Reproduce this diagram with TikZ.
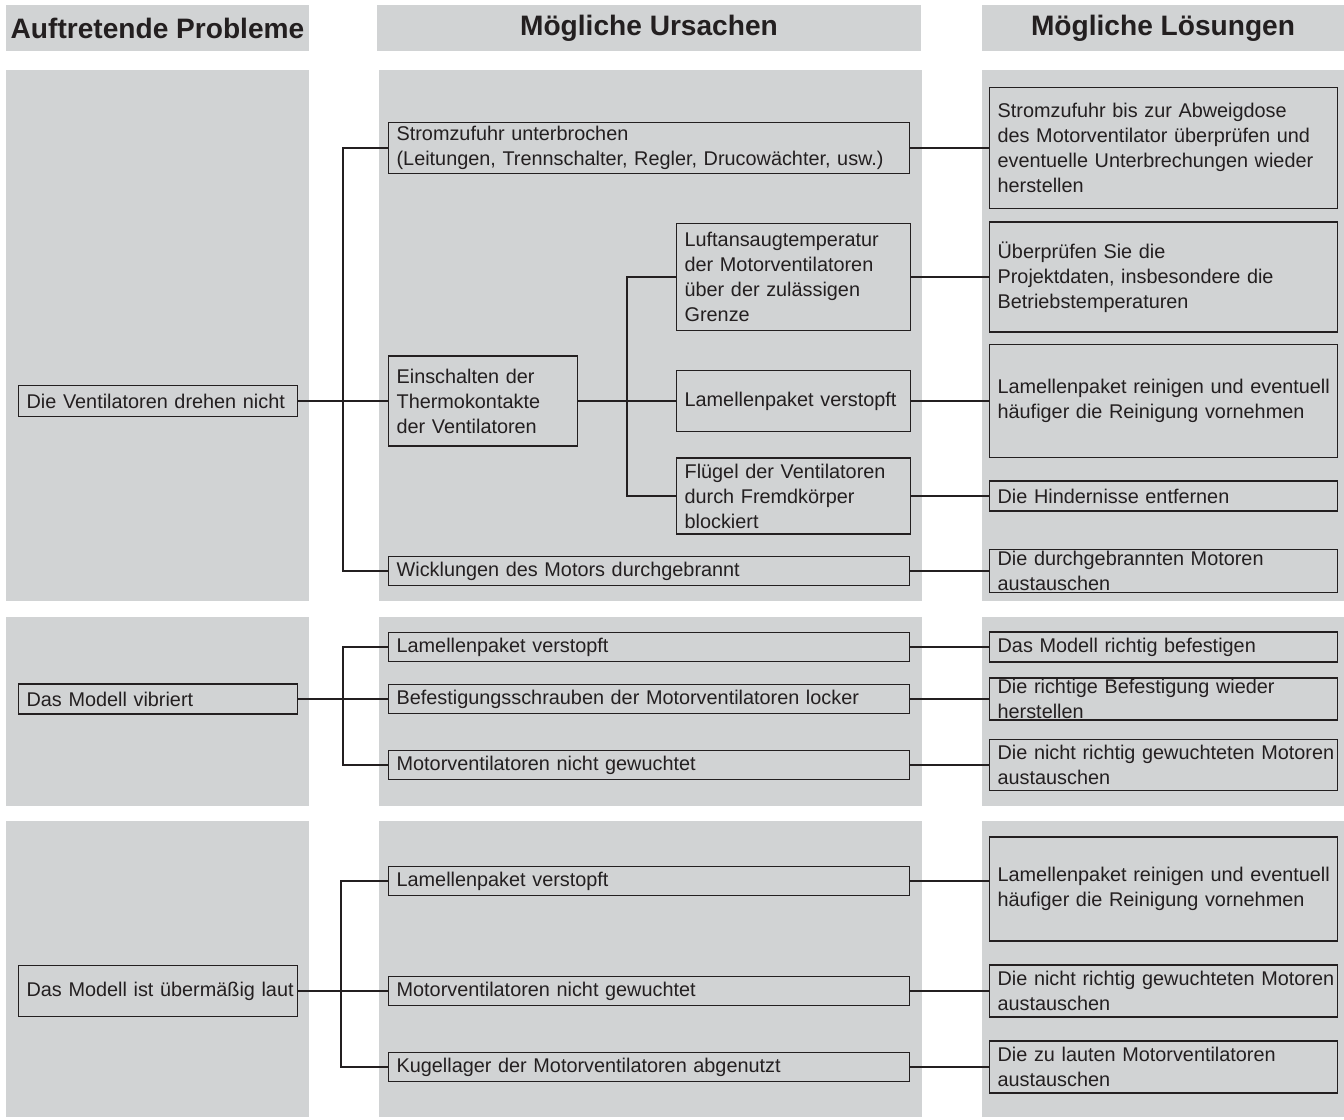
\documentclass[tikz,border=0pt]{standalone}
\usepackage{fontspec}
\setmainfont{Liberation Sans}
\usepackage{xcolor}
\usepackage{tikz}
\definecolor{panelgray}{RGB}{209,211,212}
\definecolor{inkgray}{RGB}{35,31,32}
\hyphenpenalty=10000
\exhyphenpenalty=10000

\begin{document}
\begin{tikzpicture}[
      x=0.02cm, y=-0.02cm,
      every node/.style={font=\fontsize{11.3}{14.2}\selectfont, text=inkgray},
      panel/.style={fill=panelgray},
      head/.style={fill=panelgray, inner sep=0pt, minimum height=0.92cm,
                   font=\fontsize{16}{19}\selectfont\bfseries},
      box/.style={draw=inkgray, line width=0.7pt, fill=panelgray, anchor=west,
                  align=left, inner xsep=0.16cm, inner ysep=0.5pt, minimum height=0.58cm},
      prob/.style={box, text width=5.26cm},
      cause/.style={box, text width=10.10cm},
      causes/.style={box, text width=3.46cm},
      causem/.style={box, text width=4.36cm},
      fix/.style={box, text width=6.64cm},
      wire/.style={draw=inkgray, line width=0.7pt}
    ]
      \useasboundingbox (0,0) rectangle (1344,1119);
      \fill[panel] (6,70) rectangle (309,601);
      \fill[panel] (379,70) rectangle (922,601);
      \fill[panel] (982,70) rectangle (1344,601);
      \fill[panel] (6,617) rectangle (309,806);
      \fill[panel] (379,617) rectangle (922,806);
      \fill[panel] (982,617) rectangle (1344,806);
      \fill[panel] (6,821) rectangle (309,1117);
      \fill[panel] (379,821) rectangle (922,1117);
      \fill[panel] (982,821) rectangle (1344,1117);

      \node (h1) [head, minimum width=6.06cm]  at (157.5,28) {Auftretende Probleme};
      \node (h2) [head, minimum width=10.88cm] at (649,28)   {Mögliche Ursachen};
      \node (h3) [head, minimum width=7.24cm]  at (1163,28)  {Mögliche Lösungen};

      \node (p1)  [prob, minimum height=0.62cm] at (18,401) {Die Ventilatoren drehen nicht};
      \node (c1)  [cause, minimum height=1.02cm] at (388,148) {Stromzufuhr unterbrochen\\(Leitungen, Trennschalter, Regler, Drucowächter, usw.)};
      \node (c2)  [causes, minimum height=1.8cm] at (388,401) {Einschalten der\\Thermokontakte\\der Ventilatoren};
      \node (c3)  [causem, minimum height=2.14cm] at (676,277) {Luftansaugtemperatur\\der Motorventilatoren\\über der zulässigen\\Grenze};
      \node (c4)  [causem, minimum height=1.22cm] at (676,401) {Lamellenpaket verstopft};
      \node (c6)  [causem, minimum height=1.52cm] at (676,496) {Flügel der Ventilatoren\\durch Fremdkörper\\blockiert};
      \node (c5)  [cause] at (388,571) {Wicklungen des Motors durchgebrannt};
      \node (s1)  [fix, minimum height=2.42cm] at (989,148) {Stromzufuhr bis zur Abweigdose\\des Motorventilator überprüfen und\\eventuelle Unterbrechungen wieder\\herstellen};
      \node (s2)  [fix, minimum height=2.2cm] at (989,277) {Überprüfen Sie die\\Projektdaten, insbesondere die\\Betriebstemperaturen};
      \node (s3)  [fix, minimum height=2.26cm] at (989,401) {\mbox{Lamellenpaket reinigen und eventuell}\\häufiger die Reinigung vornehmen};
      \node (s4)  [fix, minimum height=0.6cm] at (989,496) {Die Hindernisse entfernen};
      \node (s5)  [fix, minimum height=0.86cm] at (989,571) {Die durchgebrannten Motoren\\austauschen};

      \node (p2)  [prob, minimum height=0.6cm] at (18,699) {Das Modell vibriert};
      \node (c7)  [cause] at (388,647) {Lamellenpaket verstopft};
      \node (c8)  [cause] at (388,699) {Befestigungsschrauben der Motorventilatoren locker};
      \node (c9)  [cause] at (388,765) {Motorventilatoren nicht gewuchtet};
      \node (s6)  [fix, minimum height=0.6cm] at (989,647) {Das Modell richtig befestigen};
      \node (s7)  [fix, minimum height=0.84cm] at (989,699) {Die richtige Befestigung wieder\\herstellen};
      \node (s8)  [fix, minimum height=1.02cm] at (989,765) {\mbox{Die nicht richtig gewuchteten Motoren}\\austauschen};

      \node (p3)  [prob, minimum height=1.02cm] at (18,991) {\mbox{Das Modell ist übermäßig laut}};
      \node (c10) [cause] at (388,881) {Lamellenpaket verstopft};
      \node (c11) [cause] at (388,991) {Motorventilatoren nicht gewuchtet};
      \node (c12) [cause] at (388,1067) {Kugellager der Motorventilatoren abgenutzt};
      \node (s9)  [fix, minimum height=2.08cm] at (989,889) {\mbox{Lamellenpaket reinigen und eventuell}\\häufiger die Reinigung vornehmen};
      \node (s10) [fix, minimum height=1.04cm] at (989,991) {\mbox{Die nicht richtig gewuchteten Motoren}\\austauschen};
      \node (s11) [fix, minimum height=1.04cm] at (989,1067) {Die zu lauten Motorventilatoren\\austauschen};

      \coordinate (j1) at (343,401);
      \coordinate (k1) at (627,401);
      \coordinate (j2) at (343,699);
      \coordinate (j3) at (341,991);

      \draw[wire] (p1) -- (c2);
      \draw[wire] (c1) -| (j1) |- (c5);
      \draw[wire] (c2) -- (c4);
      \draw[wire] (c3) -| (k1) |- (c6);
      \draw[wire] (c1) -- (s1);
      \draw[wire] (c3) -- (s2);
      \draw[wire] (c4) -- (s3);
      \draw[wire] (c6) -- (s4);
      \draw[wire] (c5) -- (s5);

      \draw[wire] (p2) -- (c8);
      \draw[wire] (c7) -| (j2) |- (c9);
      \draw[wire] (c7) -- (s6);
      \draw[wire] (c8) -- (s7);
      \draw[wire] (c9) -- (s8);

      \draw[wire] (p3) -- (c11);
      \draw[wire] (c10) -| (j3) |- (c12);
      \draw[wire] (c10.east) -- (c10.east -| s9.west);
      \draw[wire] (c11) -- (s10);
      \draw[wire] (c12) -- (s11);
    \end{tikzpicture}
\end{document}
